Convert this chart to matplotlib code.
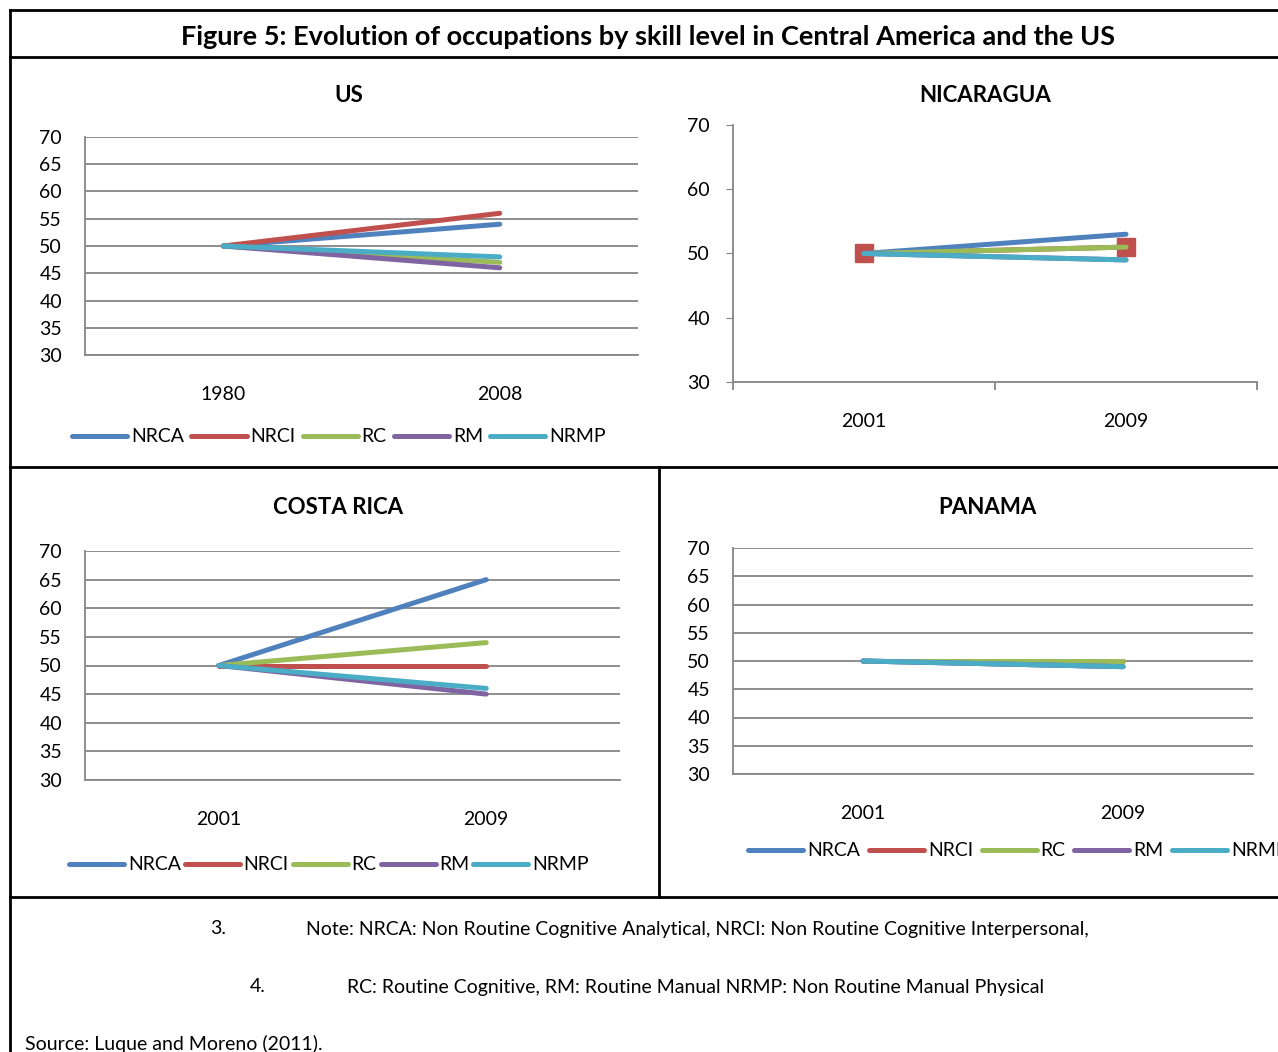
import matplotlib
matplotlib.use("Agg")
import matplotlib.pyplot as plt
from matplotlib.lines import Line2D

plt.rcParams['font.family'] = ['Lato', 'DejaVu Sans']

W, H = 1278, 1052

series = ['NRCA', 'NRCI', 'RC', 'RM', 'NRMP']
colors = ['#4F81BD', '#C0504D', '#9BBB59', '#8064A2', '#4BACC6']

us_years = ['1980', '2008']
us_values = {'NRCA': [50, 54], 'NRCI': [50, 56], 'RC': [50, 47],
             'RM': [50, 46], 'NRMP': [50, 48]}

ca_years = ['2001', '2009']
nic_values = {'NRCA': [50, 53], 'NRCI': [50, 51], 'RC': [50, 51],
              'RM': [50, 49], 'NRMP': [50, 49]}
cr_values = {'NRCA': [50, 65], 'NRCI': [50, 50], 'RC': [50, 54],
             'RM': [50, 45], 'NRMP': [50, 46]}
pan_values = {'NRCA': [50, 49], 'NRCI': [50, 50], 'RC': [50, 50],
              'RM': [50, 49], 'NRMP': [50, 49]}

GRID = '#868686'
FS = 14

fig = plt.figure(figsize=(W / 100, H / 100), dpi=100)


def box(x0, y0, x1, y1):
    # pixel box (top-left origin) -> figure fraction rect
    return [x0 / W, 1 - y1 / H, (x1 - x0) / W, (y1 - y0) / H]


def ftext(x, y, s, **kw):
    fig.text(x / W, 1 - y / H, s, **kw)


def hline(y, x0, x1, lw=2):
    fig.add_artist(Line2D([x0 / W, x1 / W], [1 - y / H, 1 - y / H],
                          color='black', lw=lw, transform=fig.transFigure))


def vline(x, y0, y1, lw=2):
    fig.add_artist(Line2D([x / W, x / W], [1 - y0 / H, 1 - y1 / H],
                          color='black', lw=lw, transform=fig.transFigure))


def panel(rect, title, title_xy, years, values, step, grid=True,
          legend_xy=None, colspace=0.4, nic=False):
    ax = fig.add_axes(box(*rect))
    x = range(len(years))
    for name, c in zip(series, colors):
        if nic and name == 'NRCI':
            ax.plot(x, values[name], color=c, lw=3.6, marker='s', ms=13,
                    solid_capstyle='round', label=name, zorder=2)
        else:
            ax.plot(x, values[name], color=c, lw=3.6, solid_capstyle='round',
                    label=name, zorder=3)
    ax.set_xlim(-0.5, len(years) - 0.5)
    ax.set_ylim(30, 70)
    ax.set_yticks(range(30, 71, step))
    ax.set_xticks(list(x))
    ax.set_xticklabels(years)
    for s in ['top', 'right']:
        ax.spines[s].set_visible(False)
    for s in ['left', 'bottom']:
        ax.spines[s].set_color(GRID)
        ax.spines[s].set_linewidth(1.3)
    ax.tick_params(labelsize=FS, colors='black')
    if grid:
        ax.grid(axis='y', color=GRID, lw=1.3)
        ax.set_axisbelow(True)
        ax.tick_params(axis='y', length=0, pad=16.5)
        ax.tick_params(axis='x', length=0, pad=22)
    else:
        ax.tick_params(axis='y', length=5, color=GRID, pad=11.5)
        ax.tick_params(axis='x', length=0, pad=22)
        ax.set_xticks([-0.5, 0.5, 1.5], minor=True)
        ax.tick_params(axis='x', which='minor', length=6, color=GRID,
                       width=1.3)
    ftext(*title_xy, title, ha='center', va='center', fontsize=16,
          fontweight='bold')
    if legend_xy is not None:
        ax.legend(loc='center', bbox_to_anchor=(legend_xy[0] / W,
                                                1 - legend_xy[1] / H),
                  bbox_transform=fig.transFigure, ncol=5, frameon=False,
                  fontsize=FS, handlelength=2.83, handletextpad=0.2,
                  columnspacing=colspace, borderpad=0, borderaxespad=0)
    return ax


panel((85, 137, 638, 355), 'US', (349, 96), us_years, us_values, 5,
      legend_xy=(339, 437), colspace=0.37)
panel((733, 125, 1257, 382), 'NICARAGUA', (985, 96), ca_years, nic_values, 10,
      grid=False, nic=True)
panel((85, 551, 620, 780), 'COSTA RICA', (338, 508), ca_years, cr_values, 5,
      legend_xy=(329, 865), colspace=0.2)
panel((733, 548, 1253, 774), 'PANAMA', (987, 508), ca_years, pan_values, 5,
      legend_xy=(1018, 851), colspace=0.45)

# figure frame
hline(10, 10, W)
hline(57, 10, W)
hline(467, 10, W)
hline(897, 10, W)
vline(10, 10, H)
vline(659, 467, 897)

ftext(648, 37, 'Figure 5: Evolution of occupations by skill level in Central America and the US',
      ha='center', va='center', fontsize=19.5, fontweight='bold')

ftext(210, 929, '3.', va='center', fontsize=FS)
ftext(306, 929, 'Note: NRCA: Non Routine Cognitive Analytical, NRCI: Non Routine Cognitive Interpersonal,',
      va='center', fontsize=FS)
ftext(250, 987, '4.', va='center', fontsize=FS)
ftext(347, 987, 'RC: Routine Cognitive, RM: Routine Manual NRMP: Non Routine Manual Physical',
      va='center', fontsize=FS)
ftext(25, 1044, 'Source: Luque and Moreno (2011).', va='center', fontsize=FS)

fig.savefig('out.png', dpi=100)
